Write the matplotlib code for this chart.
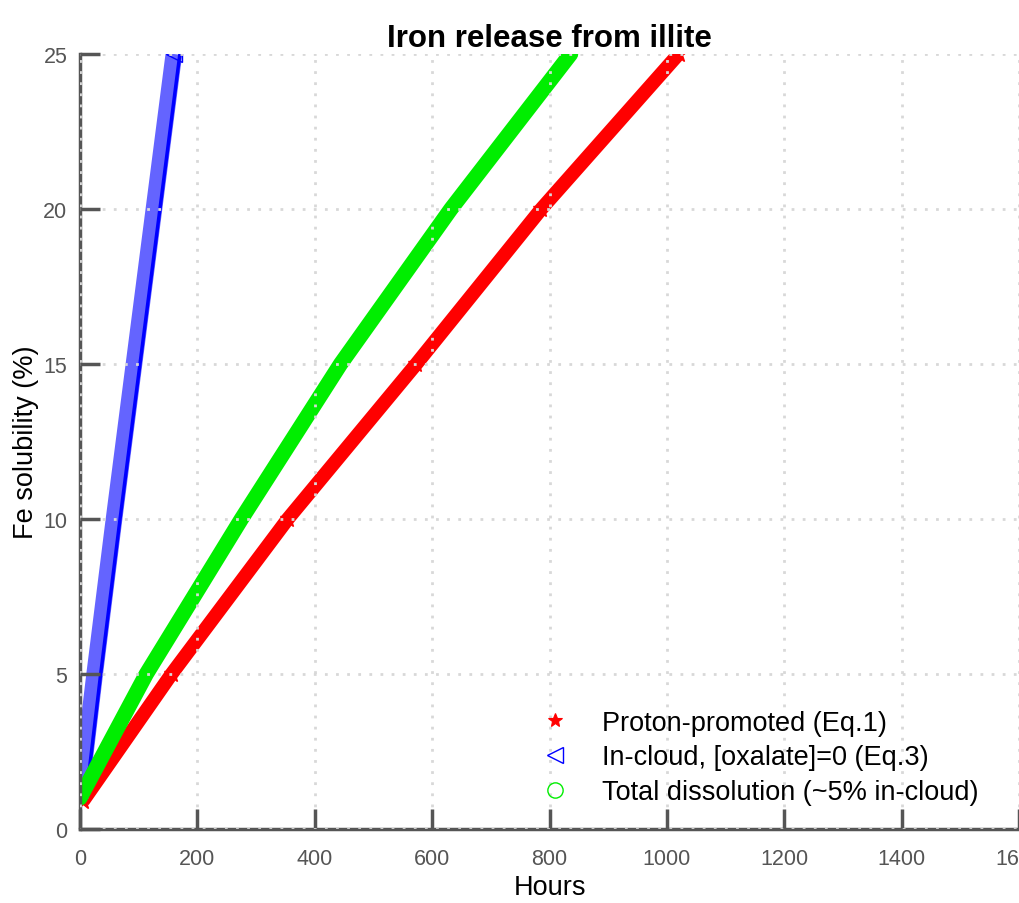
import matplotlib
matplotlib.use("Agg")
import matplotlib.pyplot as plt
from matplotlib.lines import Line2D
from matplotlib.transforms import ScaledTranslation

plt.rcParams['font.family'] = ['Liberation Sans', 'DejaVu Sans']

# Data (hours, Fe solubility %)
proton_hours = [5, 156, 354, 573, 786, 1020]
proton_sol = [0.9, 5, 10, 15, 20, 25]

incloud_hours = [0, 25, 58, 92, 126, 160]
incloud_sol = [1, 5, 10, 15, 20, 25]

total_hours = [0, 113, 275, 444, 632, 836]
total_sol = [1, 5, 10, 15, 20, 25]

x_ticks = [0, 200, 400, 600, 800, 1000, 1200, 1400, 1600]
y_ticks = [0, 5, 10, 15, 20, 25]

labels = ['Proton-promoted (Eq.1)', 'In-cloud, [oxalate]=0 (Eq.3)',
          'Total dissolution (~5% in-cloud)']

fig = plt.figure(figsize=(10.19, 9.04), dpi=100)
ax = fig.add_axes([80 / 1019, 74 / 904, 1 - 80 / 1019, (830 - 55) / 904])

ax.plot(proton_hours, proton_sol, color='#ff0000', lw=10, solid_capstyle='butt',
        marker='*', ms=12, mec='#ff0000', mfc='#ff0000')

ax.plot(incloud_hours, incloud_sol, color='#6464ff', lw=12, solid_capstyle='butt')
off = ScaledTranslation(6 / 100, 0, fig.dpi_scale_trans)
ax.plot(incloud_hours, incloud_sol, color='#0000ff', lw=2.5, transform=ax.transData + off)
ax.plot(incloud_hours[-1:], incloud_sol[-1:], ls='none', marker='<', ms=12,
        mec='#0000ff', mfc='none', mew=1)

ax.plot(total_hours, total_sol, color='#00ee00', lw=11, solid_capstyle='round')

ax.set_xlim(0, 1600)
ax.set_ylim(0, 25)
ax.set_xticks(x_ticks)
ax.set_yticks(y_ticks)

for s in ['top', 'right']:
    ax.spines[s].set_visible(False)
for s in ['left', 'bottom']:
    ax.spines[s].set_color('#555555')
    ax.spines[s].set_linewidth(2.5)

ax.tick_params(direction='in', length=14.5, width=2.5, color='#555555',
               labelcolor='#555555', labelsize=15.5, pad=9)
ax.tick_params(axis='x', pad=14)
ax.set_axisbelow(False)
ax.grid(True, color='#d8d8d8', linestyle=(0, (1, 3)), linewidth=2)

ax.set_title('Iron release from illite', fontsize=22.5, fontweight='bold', pad=6)
ax.set_xlabel('Hours', fontsize=19.5, labelpad=3)
ax.set_ylabel('Fe solubility (%)', fontsize=19.5, labelpad=3)

handles = [
    Line2D([], [], ls='none', marker='*', color='#ff0000', ms=10, mew=0.8),
    Line2D([], [], ls='none', marker='<', color='#0000ff', mfc='none', ms=11, mew=1),
    Line2D([], [], ls='none', marker='o', color='#00ee00', mfc='none', ms=11, mew=1),
]
ax.legend(handles, labels, loc='lower right', bbox_to_anchor=(0.977, 0.006),
          frameon=False, fontsize=19.5, handletextpad=1.0, labelspacing=0.33,
          handlelength=1.5, borderaxespad=0.3)

fig.savefig('out.png', dpi=100)
